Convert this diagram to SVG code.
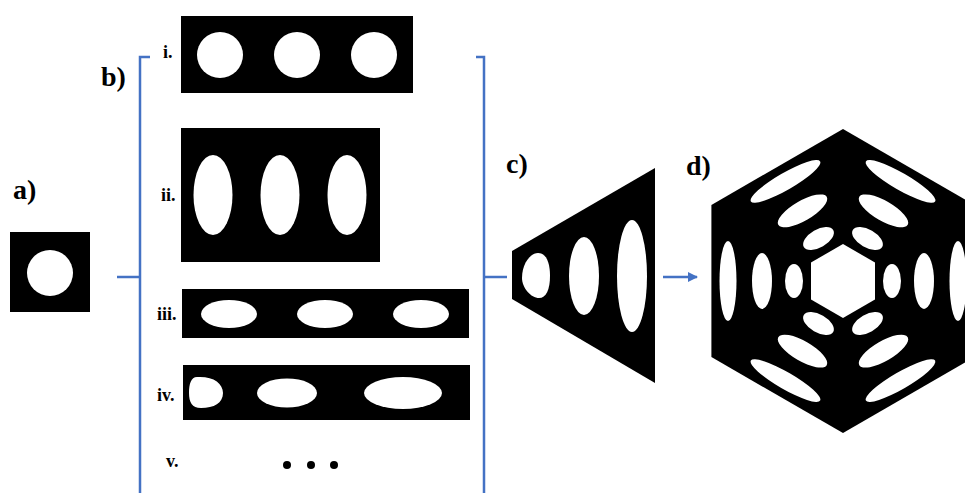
<svg xmlns="http://www.w3.org/2000/svg" width="965" height="493" viewBox="0 0 965 493">
<defs>
<style>
.lbl{font-family:"Liberation Serif","Times New Roman",serif;font-weight:bold;font-size:28px;fill:#000}
.num{font-family:"Liberation Serif","Times New Roman",serif;font-weight:bold;font-size:18px;fill:#000}
.blk{fill:#000}
.hole{fill:#fff}
.con{fill:none;stroke:#4472C4;stroke-width:2.5}
</style>
<marker id="ah" viewBox="0 0 10 10" refX="9" refY="5" markerWidth="4" markerHeight="4" orient="auto" markerUnits="strokeWidth">
<path d="M0,0 L10,5 L0,10 Z" fill="#4472C4"/>
</marker>
<g id="spokeTpl">
<ellipse class="hole" cx="728" cy="281" rx="8.5" ry="40"/>
<ellipse class="hole" cx="762" cy="281" rx="10" ry="28"/>
<ellipse class="hole" cx="794" cy="281" rx="9" ry="17"/>
</g>
</defs>
<rect width="965" height="493" fill="#fff"/>

<g id="connectors">
<path class="con" d="M117,277 H140"/>
<path class="con" d="M150,57 H140 V493"/>
<path class="con" d="M476,57 H484 V493"/>
<path class="con" d="M484,277 H507"/>
<path class="con" d="M663,277 H697" marker-end="url(#ah)"/>
</g>

<g id="node-a">
<text class="lbl" x="13" y="199">a)</text>
<rect class="blk" x="10" y="232" width="80" height="80"/>
<circle class="hole" cx="50" cy="273" r="23"/>
</g>

<g id="label-b">
<text class="lbl" x="101" y="86">b)</text>
</g>

<g id="node-b-i">
<text class="num" x="163" y="58">i.</text>
<rect class="blk" x="181" y="16" width="232" height="77"/>
<circle class="hole" cx="220" cy="55" r="23"/>
<circle class="hole" cx="297" cy="55" r="23"/>
<circle class="hole" cx="374" cy="55" r="23"/>
</g>

<g id="node-b-ii">
<text class="num" x="161" y="201">ii.</text>
<rect class="blk" x="181" y="128" width="199" height="134"/>
<ellipse class="hole" cx="213" cy="195" rx="19.5" ry="40"/>
<ellipse class="hole" cx="280" cy="195" rx="19.5" ry="40"/>
<ellipse class="hole" cx="347" cy="195" rx="19.5" ry="40"/>
</g>

<g id="node-b-iii">
<text class="num" x="157" y="320">iii.</text>
<rect class="blk" x="182" y="289" width="287" height="49"/>
<ellipse class="hole" cx="229" cy="314" rx="28" ry="14"/>
<ellipse class="hole" cx="325" cy="314" rx="28" ry="14"/>
<ellipse class="hole" cx="421" cy="314" rx="28" ry="14"/>
</g>

<g id="node-b-iv">
<text class="num" x="157" y="401">iv.</text>
<rect class="blk" x="183" y="365" width="287" height="55"/>
<path class="hole" d="M197,377 C213,376 223,383 223,393 C223,403 214,408 201,408 C192,408 189,402 189,393 C189,384 191,377 197,377 Z"/>
<ellipse class="hole" cx="287" cy="393" rx="30" ry="14.5"/>
<ellipse class="hole" cx="403" cy="393" rx="39" ry="16"/>
</g>

<g id="node-b-v">
<text class="num" x="166" y="467">v.</text>
<circle class="blk" cx="287" cy="465" r="4"/>
<circle class="blk" cx="311" cy="465" r="4"/>
<circle class="blk" cx="334" cy="465" r="4"/>
</g>

<g id="node-c">
<text class="lbl" x="506" y="173">c)</text>
<polygon class="blk" points="512,251 655,168 655,383 512,299"/>
<path class="hole" d="M538,253 C547,253 550,264 550,276 C550,290 546,298 539,298 C531,298 522,288 522,278 C522,264 530,253 538,253 Z"/>
<ellipse class="hole" cx="584" cy="276" rx="15" ry="39"/>
<ellipse class="hole" cx="632" cy="276" rx="15" ry="56"/>
</g>

<g id="node-d">
<text class="lbl" x="686" y="175">d)</text>
<polygon class="blk" points="843,129 974.6,205 974.6,357 843,433 711.4,357 711.4,205"/>
<polygon class="hole" points="843,244 875,262.5 875,299.5 843,318 811,299.5 811,262.5"/>
<use href="#spokeTpl"/>
<use href="#spokeTpl" transform="rotate(60 843 281)"/>
<use href="#spokeTpl" transform="rotate(120 843 281)"/>
<use href="#spokeTpl" transform="rotate(180 843 281)"/>
<use href="#spokeTpl" transform="rotate(240 843 281)"/>
<use href="#spokeTpl" transform="rotate(300 843 281)"/>
</g>
</svg>
